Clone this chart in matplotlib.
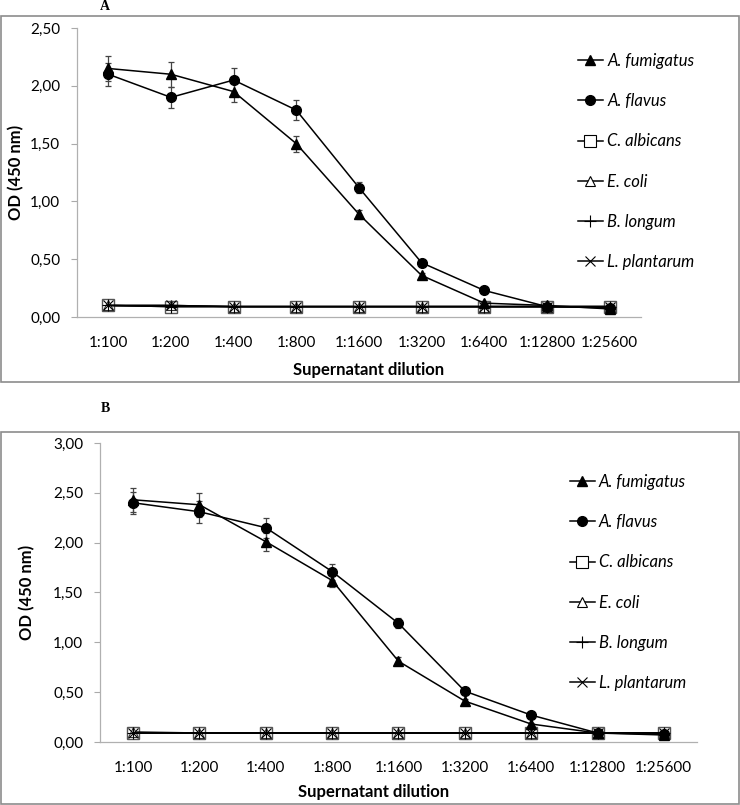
import matplotlib
matplotlib.use('Agg')
import matplotlib.pyplot as plt
from matplotlib.patches import Rectangle
from matplotlib.lines import Line2D
from matplotlib.ticker import FuncFormatter

plt.rcParams['font.family'] = ['Lato', 'DejaVu Sans']

dilutions = ['1:100', '1:200', '1:400', '1:800', '1:1600', '1:3200', '1:6400', '1:12800', '1:25600']

# panel A
fum_a = [2.15, 2.10, 1.95, 1.50, 0.89, 0.36, 0.12, 0.10, 0.07]
fum_a_err = [0.11, 0.11, 0.09, 0.07, 0.04, 0.02, 0.01, 0.01, 0.01]
flav_a = [2.10, 1.90, 2.05, 1.79, 1.12, 0.47, 0.23, 0.09, 0.08]
flav_a_err = [0.10, 0.09, 0.10, 0.09, 0.05, 0.02, 0.01, 0.01, 0.01]
alb_a = [0.10, 0.09, 0.09, 0.09, 0.09, 0.09, 0.09, 0.09, 0.09]
coli_a = [0.10, 0.10, 0.09, 0.09, 0.09, 0.09, 0.09, 0.09, 0.09]
long_a = [0.10, 0.09, 0.09, 0.09, 0.09, 0.09, 0.09, 0.09, 0.09]
plan_a = [0.10, 0.10, 0.09, 0.09, 0.09, 0.09, 0.09, 0.09, 0.09]

# panel B
fum_b = [2.43, 2.38, 2.01, 1.62, 0.81, 0.41, 0.18, 0.09, 0.07]
fum_b_err = [0.12, 0.12, 0.09, 0.06, 0.04, 0.02, 0.01, 0.01, 0.01]
flav_b = [2.40, 2.31, 2.15, 1.71, 1.19, 0.51, 0.27, 0.09, 0.08]
flav_b_err = [0.11, 0.11, 0.10, 0.08, 0.05, 0.02, 0.01, 0.01, 0.01]
alb_b = [0.09, 0.09, 0.09, 0.09, 0.09, 0.09, 0.09, 0.09, 0.09]
coli_b = [0.10, 0.09, 0.09, 0.09, 0.09, 0.09, 0.09, 0.09, 0.09]
long_b = [0.09, 0.09, 0.09, 0.09, 0.09, 0.09, 0.09, 0.09, 0.09]
plan_b = [0.09, 0.09, 0.09, 0.09, 0.09, 0.09, 0.09, 0.09, 0.09]

names = ['A. fumigatus', 'A. flavus', 'C. albicans', 'E. coli', 'B. longum', 'L. plantarum']

fig = plt.figure(figsize=(7.4, 8.05), dpi=100)

# grey frames round each panel
for (b, h) in [(0.5255, 0.4545), (0.0015, 0.462)]:
    fig.patches.append(Rectangle((0.001, b), 0.997, h, transform=fig.transFigure,
                                 fill=False, edgecolor='#8c8c8c', linewidth=1.2))

fig.text(0.142, 0.992, 'A', family='Liberation Serif', weight='bold', fontsize=10, ha='center', va='center')
fig.text(0.142, 0.493, 'B', family='Liberation Serif', weight='bold', fontsize=10, ha='center', va='center')


def draw(ax, fum, fum_err, flav, flav_err, ctrls, ymax, legend_xy, ylabel_xy, xlabel_xy):
    x = list(range(len(dilutions)))
    lw = 1.1
    ax.errorbar(x, fum, yerr=fum_err, fmt='none', ecolor='#444444', elinewidth=0.9, capsize=2.5, capthick=0.9)
    ax.errorbar(x, flav, yerr=flav_err, fmt='none', ecolor='#444444', elinewidth=0.9, capsize=2.5, capthick=0.9)
    ax.plot(x, ctrls[0], color='black', lw=lw, marker='s', ms=9, mfc='white', mec='#555555', mew=1.0)
    ax.plot(x, ctrls[1], color='black', lw=lw, marker='^', ms=7, mfc='white', mec='#333333', mew=0.8)
    ax.plot(x, ctrls[2], color='black', lw=lw, marker='+', ms=8, mec='black', mew=0.8)
    ax.plot(x, ctrls[3], color='black', lw=lw, marker='x', ms=7, mec='black', mew=0.8)
    ax.plot(x, fum, color='black', lw=lw, marker='^', ms=7.5)
    ax.plot(x, flav, color='black', lw=lw, marker='o', ms=7)

    ax.set_xlim(-0.5, len(dilutions) - 0.5)
    ax.set_ylim(0, ymax)
    ax.set_yticks([i * 0.5 for i in range(int(ymax / 0.5) + 1)])
    ax.yaxis.set_major_formatter(FuncFormatter(lambda v, p: ('%.2f' % v).replace('.', ',')))
    ax.set_xticks(x)
    ax.set_xticklabels(dilutions)
    ax.tick_params(axis='x', length=0, pad=14, labelsize=11)
    ax.tick_params(axis='y', length=4, color='#aaaaaa', width=0.8, pad=8, labelsize=11, direction='out')
    for s in ['top', 'right']:
        ax.spines[s].set_visible(False)
    for s in ['left', 'bottom']:
        ax.spines[s].set_color('#b0b0b0')
        ax.spines[s].set_linewidth(0.9)

    # axis titles placed in figure coordinates
    fig.text(xlabel_xy[0], xlabel_xy[1], 'Supernatant dilution', fontsize=12,
             weight='bold', ha='center', va='center')
    fig.text(ylabel_xy[0], ylabel_xy[1], 'OD (450 nm)', rotation=90, fontsize=12,
             weight='bold', ha='center', va='center')

    handles = [
        Line2D([], [], color='black', lw=lw, marker='^', ms=7.5),
        Line2D([], [], color='black', lw=lw, marker='o', ms=7),
        Line2D([], [], color='black', lw=lw, marker='s', ms=9, mfc='white', mec='black', mew=0.8),
        Line2D([], [], color='black', lw=lw, marker='^', ms=7, mfc='white', mec='black', mew=0.8),
        Line2D([], [], color='black', lw=lw, marker='+', ms=8, mew=0.8),
        Line2D([], [], color='black', lw=lw, marker='x', ms=7, mew=0.8),
    ]
    fig.legend(handles, names, loc='upper left', bbox_to_anchor=legend_xy,
               frameon=False, handlelength=1.5, handletextpad=0.25,
               labelspacing=1.45, borderaxespad=0, borderpad=0,
               prop={'style': 'italic', 'size': 12})


ax_a = fig.add_axes([0.104, 0.6062, 0.762, 0.359])
draw(ax_a, fum_a, fum_a_err, flav_a, flav_a_err, [alb_a, coli_a, long_a, plan_a],
     2.5, (0.781, 0.934), (0.0216, 0.786), (0.4986, 0.5404))

ax_b = fig.add_axes([0.1351, 0.0783, 0.8068, 0.3714])
draw(ax_b, fum_b, fum_b_err, flav_b, flav_b_err, [alb_b, coli_b, long_b, plan_b],
     3.0, (0.770, 0.411), (0.0365, 0.2646), (0.5054, 0.0161))

fig.savefig('out.png', dpi=100)
